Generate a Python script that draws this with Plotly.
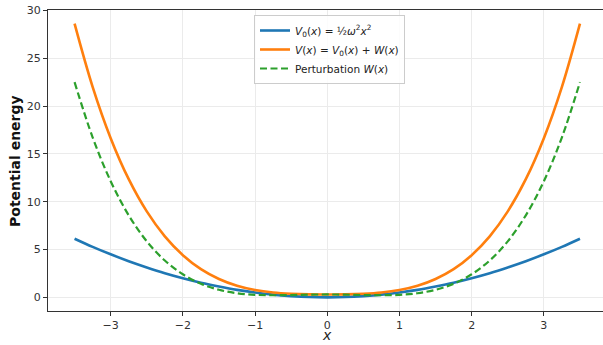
import plotly.graph_objects as go

# Sampled positions along x
x_vals = [-3.5, -3.25, -3.0, -2.75, -2.5, -2.25, -2.0, -1.75, -1.5, -1.25, -1.0, -0.75, -0.5, -0.25,
          0.0, 0.25, 0.5, 0.75, 1.0, 1.25, 1.5, 1.75, 2.0, 2.25, 2.5, 2.75, 3.0, 3.25, 3.5]

# Unperturbed potential V0(x)
v0_vals = [6.13, 5.28, 4.50, 3.78, 3.13, 2.53, 2.00, 1.53, 1.13, 0.78, 0.50, 0.28, 0.13, 0.03,
           0.00, 0.03, 0.13, 0.28, 0.50, 0.78, 1.13, 1.53, 2.00, 2.53, 3.13, 3.78, 4.50, 5.28, 6.13]

# Total potential V(x)
v_vals = [28.63, 22.02, 16.65, 12.36, 8.99, 6.38, 4.41, 2.95, 1.92, 1.21, 0.76, 0.50, 0.37, 0.31,
          0.30, 0.31, 0.37, 0.50, 0.76, 1.21, 1.92, 2.95, 4.41, 6.38, 8.99, 12.36, 16.65, 22.02, 28.63]

# Perturbation W(x)
w_vals = [22.51, 16.74, 12.15, 8.58, 5.86, 3.85, 2.41, 1.42, 0.79, 0.43, 0.26, 0.22, 0.24, 0.28,
          0.30, 0.28, 0.24, 0.22, 0.26, 0.43, 0.79, 1.42, 2.41, 3.85, 5.86, 8.58, 12.15, 16.74, 22.51]

x_ticks = [-3, -2, -1, 0, 1, 2, 3]
y_ticks = [0, 5, 10, 15, 20, 25, 30]

names = [
    "<i>V</i><sub>0</sub>(<i>x</i>) = ½<i>ω</i><sup>2</sup><i>x</i><sup>2</sup>",
    "<i>V</i>(<i>x</i>) = <i>V</i><sub>0</sub>(<i>x</i>) + <i>W</i>(<i>x</i>)",
    "Perturbation <i>W</i>(<i>x</i>)",
]

fig = go.Figure()
fig.add_trace(go.Scatter(x=x_vals, y=v0_vals, mode="lines", name=names[0],
                         line=dict(color="#1f77b4", width=2.6, shape="spline")))
fig.add_trace(go.Scatter(x=x_vals, y=v_vals, mode="lines", name=names[1],
                         line=dict(color="#ff7f0e", width=2.6, shape="spline")))
fig.add_trace(go.Scatter(x=x_vals, y=w_vals, mode="lines", name=names[2],
                         line=dict(color="#2ca02c", width=2.2, shape="spline", dash="7px,3.5px")))

fig.update_layout(
    width=603, height=345,
    margin=dict(l=48, r=0, t=10, b=34, autoexpand=False),
    paper_bgcolor="white", plot_bgcolor="white",
    font=dict(family="DejaVu Sans", size=11, color="#333333"),
    showlegend=True,
    legend=dict(
        x=(254 - 48) / 555, y=1 - 5 / 301, xanchor="left", yanchor="top",
        bgcolor="rgba(255,255,255,0.85)", bordercolor="#cccccc", borderwidth=1,
        font=dict(family="DejaVu Sans", size=10.5, color="#222222"),
        tracegroupgap=0, itemwidth=30,
    ),
    annotations=[
        dict(text="<i>x</i>", xref="paper", yref="paper", x=(327.3 - 48) / 555, y=-(344.5 - 311) / 301,
             xanchor="center", yanchor="bottom", showarrow=False,
             font=dict(size=14, color="#222222")),
        dict(text="<b>Potential energy</b>", xref="paper", yref="paper",
             x=-(48 - 15) / 555, y=(311 - 161) / 301, textangle=-90,
             xanchor="center", yanchor="middle", showarrow=False,
             font=dict(size=14, color="#111111")),
    ],
)

fig.update_xaxes(
    range=[-3.868, 3.819], tickvals=x_ticks, automargin=False,
    ticktext=["\u22123", "\u22122", "\u22121", "0", "1", "2", "3"],
    showgrid=True, gridcolor="#ebebeb", gridwidth=1, zeroline=False,
    showline=True, linecolor="#333333", linewidth=1.2, mirror=True,
    ticks="outside", ticklen=4, tickcolor="#333333",
    tickfont=dict(size=11, color="#333333"),
)
fig.update_yaxes(
    range=[-1.43, 30.06], tickvals=y_ticks, automargin=False,
    showgrid=True, gridcolor="#ebebeb", gridwidth=1, zeroline=False,
    showline=True, linecolor="#333333", linewidth=1.2, mirror=False,
    ticks="outside", ticklen=4, tickcolor="#333333",
    tickfont=dict(size=11, color="#333333"),
)

fig.write_html(
    "out.html",
    config={"displayModeBar": False},
    post_script="document.body.style.margin='0';document.body.style.overflow='hidden';",
)
